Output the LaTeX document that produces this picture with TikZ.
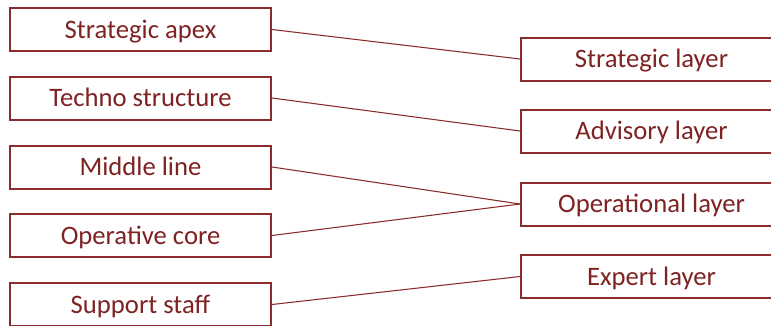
\documentclass[tikz,border=0pt]{standalone}
\usepackage{fontspec}
\setmainfont{Carlito}
\usetikzlibrary{positioning}
\definecolor{olRed}{HTML}{8B2C2C}
\definecolor{olText}{HTML}{7E2222}
\tikzset{
  ol box/.style={
    draw=olRed,
    line width=1.5pt,
    fill=white,
    minimum width=195.75pt,
    minimum height=32.25pt,
    inner sep=0pt,
    text height=12.9pt,
    text depth=0pt,
    font=\fontsize{20}{24}\selectfont,
    text=olText
  },
  ol link/.style={draw=olRed, line width=.8pt}
}

\begin{document}
\begin{tikzpicture}[x=.75pt,y=-.75pt]
  \useasboundingbox (0,0) rectangle (771,325);
  \clip (0,0) rectangle (771,325);

  % left column
  \node[ol box] (apex)    at (140.5,29.5)  {Strategic apex};
  \node[ol box] (techno)  at (140.5,98)    {Techno structure};
  \node[ol box] (middle)  at (140.5,167)   {Middle line};
  \node[ol box] (core)    at (140.5,235.5) {Operative core};
  \node[ol box] (support) at (140.5,304.5) {Support staff};

  % right column
  \node[ol box] (stratlayer)  at (651.5,59)    {Strategic layer};
  \node[ol box] (advisory)    at (651.5,131)   {Advisory layer};
  \node[ol box] (operational) at (651.5,204)   {Operational layer};
  \node[ol box] (expert)      at (651.5,276.5) {Expert layer};

  \draw[ol link] (apex.east)    -- (stratlayer.west);
  \draw[ol link] (techno.east)  -- (advisory.west);
  \draw[ol link] (middle.east)  -- (operational.west);
  \draw[ol link] (core.east)    -- (operational.west);
  \draw[ol link] (support.east) -- (expert.west);
\end{tikzpicture}
\end{document}
